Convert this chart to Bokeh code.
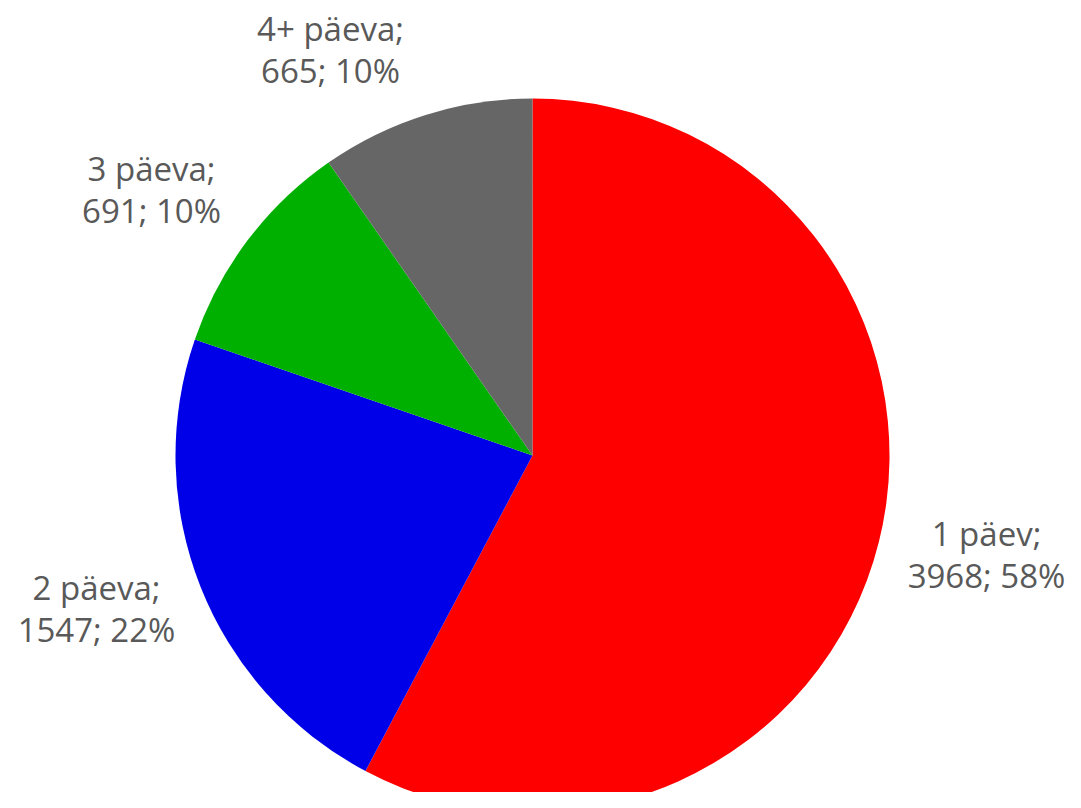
import math
from bokeh.plotting import figure
from bokeh.models import ColumnDataSource
from bokeh.core.properties import value
from bokeh.embed import file_html
from bokeh.resources import INLINE

categories = ["1 päev", "2 päeva", "3 päeva", "4+ päeva"]
counts = [3968, 1547, 691, 665]
percent_labels = ["58%", "22%", "10%", "10%"]
colors = ["#FF0000", "#0000E8", "#00B000", "#666666"]

W, H = 1065, 792
p = figure(width=W, height=H, x_range=(0, W), y_range=(0, H),
           output_backend="svg", toolbar_location=None, min_border=0)
p.axis.visible = False
p.grid.visible = False
p.outline_line_color = None
p.background_fill_color = "white"
p.border_fill_color = "white"

cx, cy, r = 532, 337, 357
total = sum(counts)
starts, ends = [], []
acc = 0.0
for c in counts:
    a0 = math.pi / 2 - 2 * math.pi * acc / total
    acc += c
    a1 = math.pi / 2 - 2 * math.pi * acc / total
    starts.append(a0)
    ends.append(a1)

src = ColumnDataSource(dict(x=[cx] * 4, y=[cy] * 4, start=starts, end=ends, color=colors))
p.wedge(x="x", y="y", radius=r, start_angle="start", end_angle="end",
        direction="clock", fill_color="color", line_color=None, source=src)

# label positions: centre x, first-line baseline (y up)
lx = [986, 96, 151, 330]
ly = [792 - (547 - 14), 792 - (601 - 14), 792 - (182 - 14), 792 - (42 - 14)]
gap = 42
line1 = [c + ";" for c in categories]
line2 = [f"{n}; {pc}" for n, pc in zip(counts, percent_labels)]
lsrc = ColumnDataSource(dict(x=lx + lx, y=ly + [v - gap for v in ly], t=line1 + line2))
p.text(x="x", y="y", text="t", source=lsrc, text_align="center",
       text_baseline="alphabetic", text_font=value("Open Sans"),
       text_font_size="33px", text_color="#595959")

open("out.html", "w").write(file_html(p, INLINE))
